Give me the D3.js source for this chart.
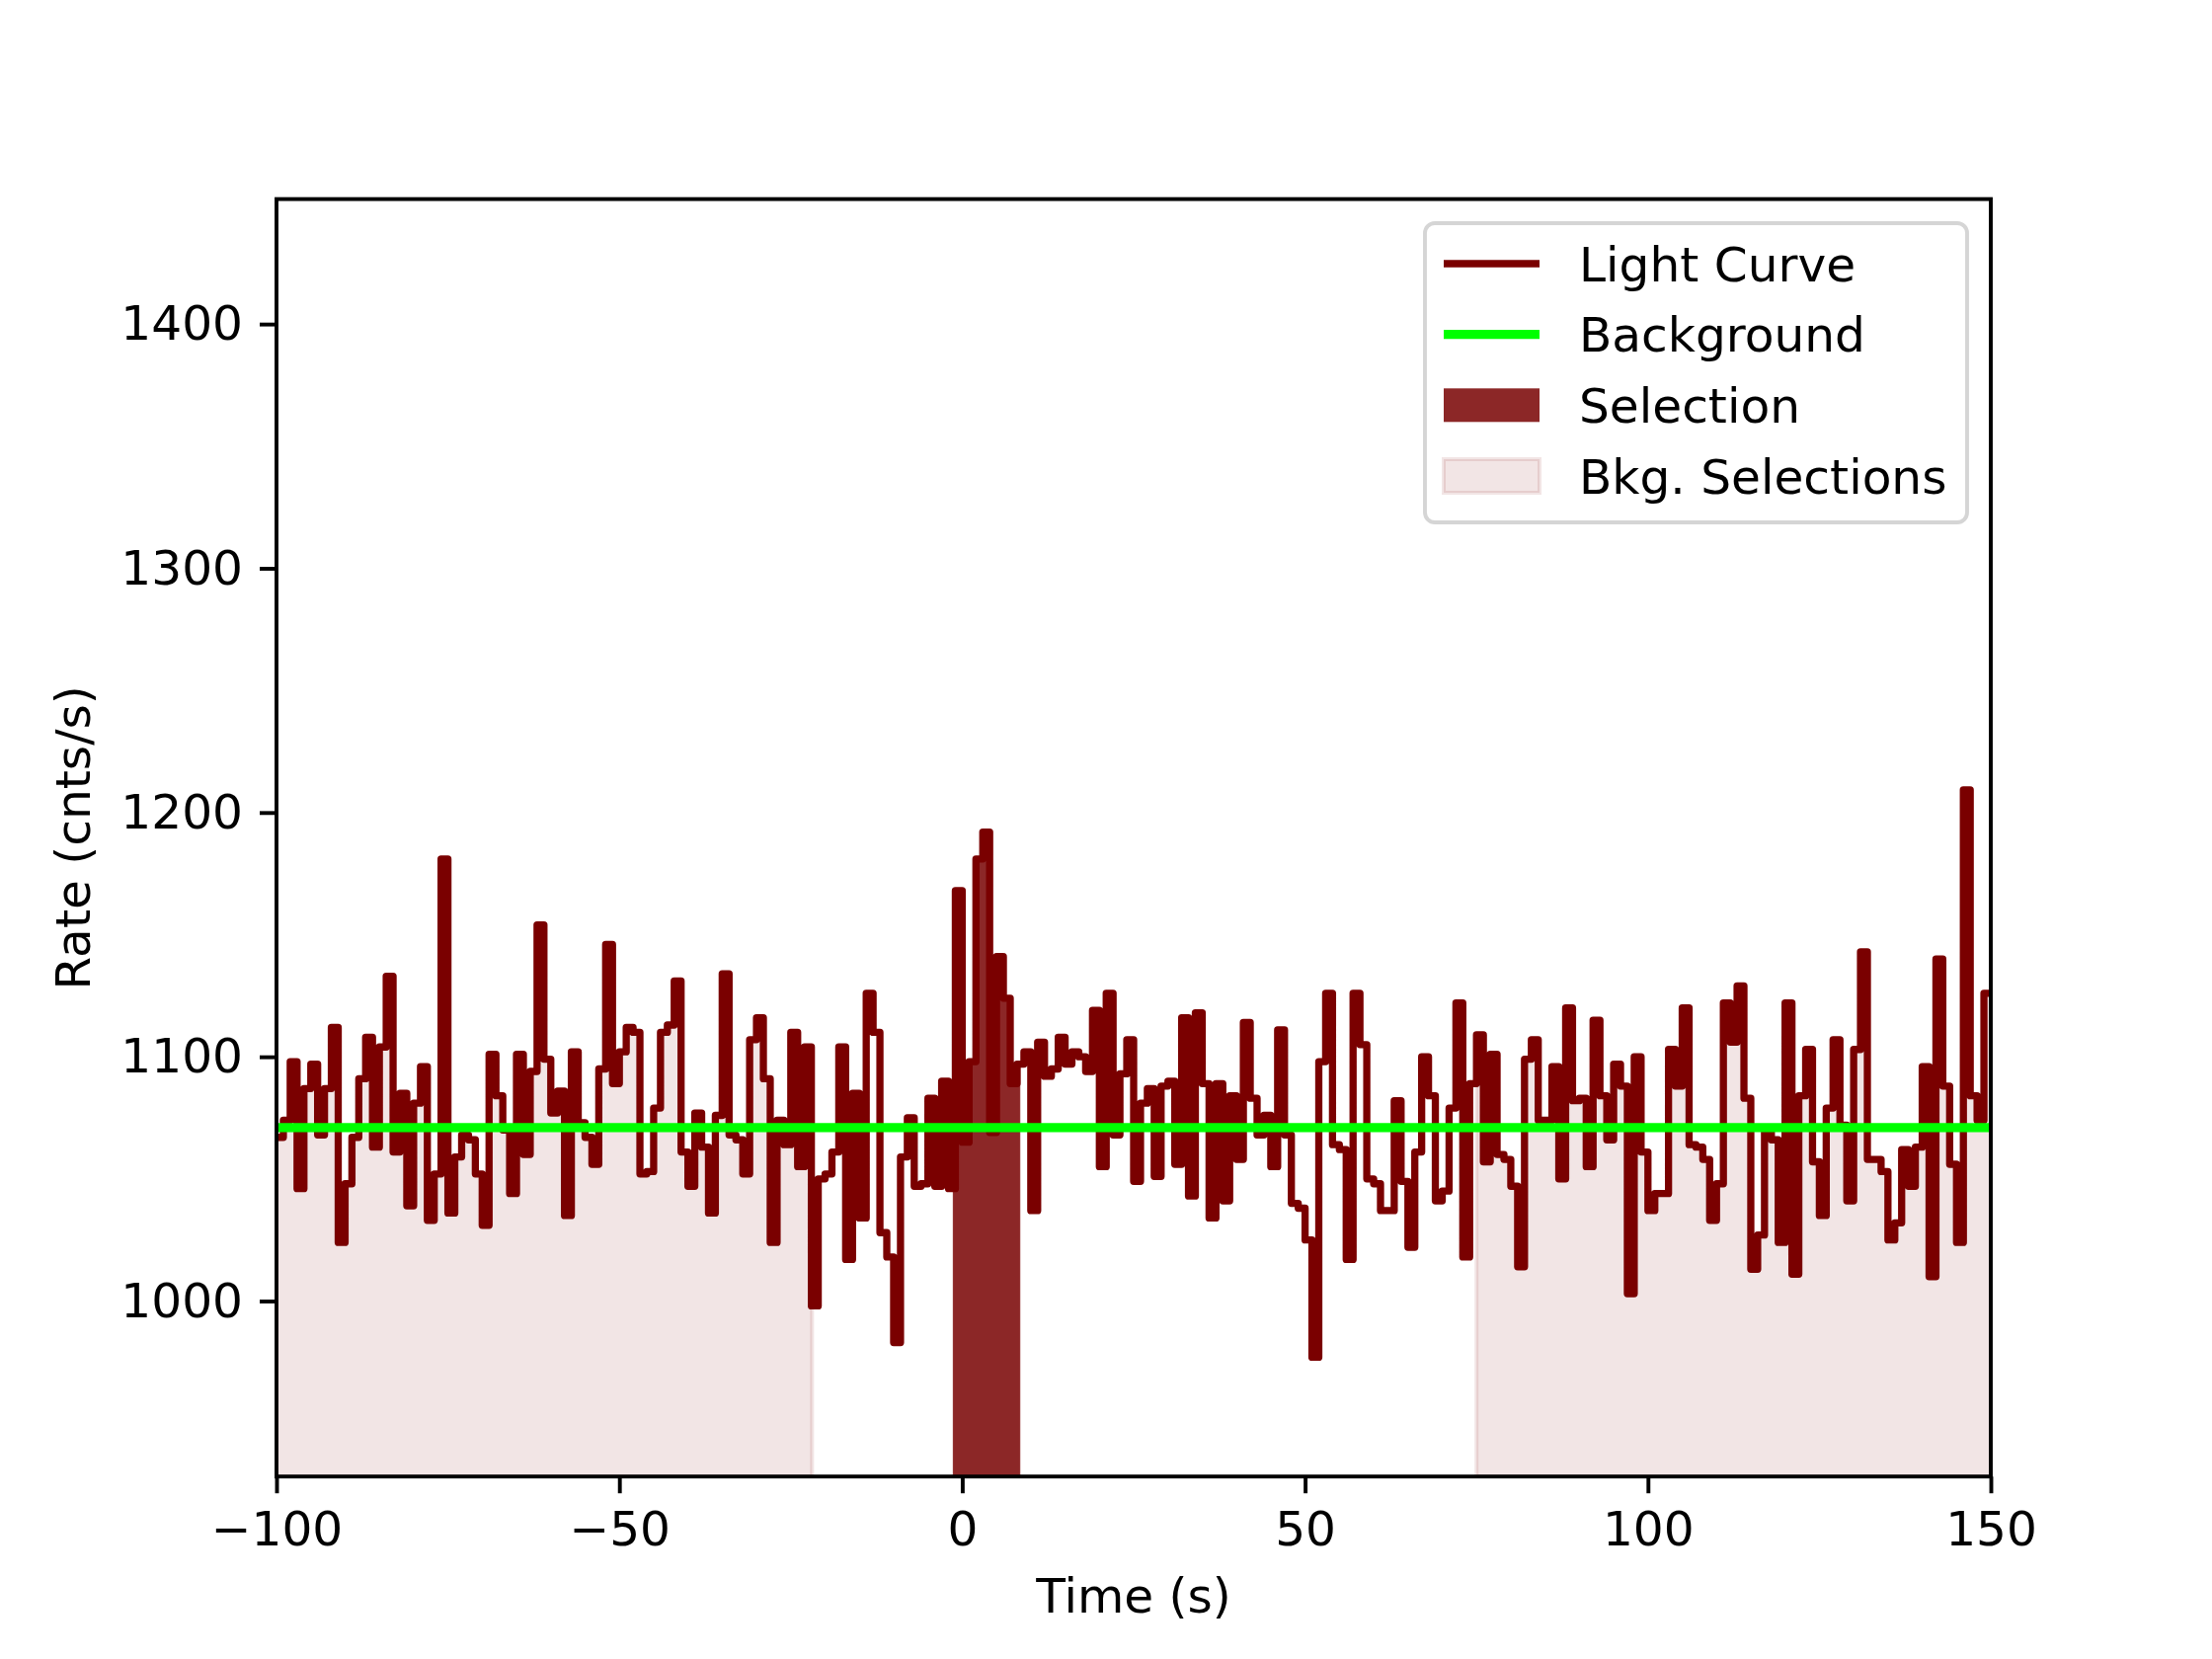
<!DOCTYPE html>
<html><head><meta charset="utf-8">
<script src="https://cdn.jsdelivr.net/npm/d3@7"></script>
<style>body{margin:0;background:#fff;} text{font-family:"DejaVu Sans",sans-serif;}</style>
</head><body><svg id="c" width="2240" height="1680"></svg>
<script>
// ---- data ----
const binStart = -100;
const binWidth = 1;
const rates = [
1067,1074,1098,1046,1087,1097,1068,1087,1112,1024,
1048,1067,1091,1108,1063,1104,1133,1061,1085,1039,
1081,1096,1033,1052,1181,1036,1059,1068,1066,1052,
1031,1101,1084,1070,1044,1101,1060,1094,1154,1099,
1077,1086,1035,1102,1073,1067,1056,1095,1146,1089,
1102,1112,1110,1052,1053,1079,1110,1113,1131,1061,
1047,1077,1063,1036,1076,1134,1068,1066,1052,1107,
1116,1091,1024,1074,1064,1110,1055,1104,998,1050,
1052,1061,1104,1017,1085,1034,1126,1110,1028,1018,
983,1059,1075,1047,1048,1083,1047,1090,1046,1168,
1065,1098,1181,1192,1069,1141,1124,1089,1097,1102,
1037,1106,1092,1095,1108,1097,1102,1100,1094,1119,
1055,1126,1068,1093,1107,1049,1081,1087,1051,1088,
1090,1056,1116,1043,1118,1089,1034,1089,1041,1084,
1058,1114,1083,1068,1076,1055,1111,1068,1040,1038,
1025,977,1098,1126,1064,1062,1017,1126,1105,1050,
1048,1037,1037,1082,1049,1022,1061,1100,1084,1041,
1045,1079,1122,1018,1089,1109,1057,1101,1060,1058,
1047,1014,1099,1107,1074,1074,1096,1050,1120,1082,
1083,1055,1115,1084,1066,1097,1088,1003,1100,1061,
1037,1044,1044,1103,1088,1120,1064,1063,1058,1033,
1048,1122,1106,1129,1083,1013,1027,1071,1066,1024,
1122,1011,1084,1103,1057,1035,1079,1107,1072,1041,
1103,1143,1058,1058,1053,1025,1032,1062,1047,1063,
1096,1010,1140,1088,1056,1024,1209.3,1084,1074,1126
];
const background = 1071;
const selection = [-1.3, 8.4];
const bkgSelections = [[-100, -21.9], [75.0, 150]];
const xDomain = [-100, 150];
const xTicks = [-100, -50, 0, 50, 100, 150];
const yTicks = [1000, 1100, 1200, 1300, 1400];
const legendLabels = ["Light Curve", "Background", "Selection", "Bkg. Selections"];
const xLabel = "Time (s)";
const yLabel = "Rate (cnts/s)";

// ---- layout ----
const L = 280, R = 2016, T = 201.6, B = 1495.2;
const FS = 48.6, LW = 3.9;
const LCW = 7.3, BGW = 9.4;
const cLine = "#7a0000", cBkg = "#00ff00", cSel = "#8c2727";

const svg = d3.select("#c");
svg.append("rect").attr("width", 2240).attr("height", 1680).attr("fill", "#fff");

const x = d3.scaleLinear().domain(xDomain).range([L, R]);
const yMin = d3.min(rates) * 0.95, yMax = d3.max(rates) * 1.2;
const y = d3.scaleLinear().domain([yMin, yMax]).range([B, T]);

const n = rates.length;
const tEnd = binStart + n * binWidth;
function valAt(t) {
  let i = Math.floor((t - binStart) / binWidth + 1e-9);
  i = Math.max(0, Math.min(n - 1, i));
  return rates[i];
}
const stepPts = rates.map((v, i) => [binStart + i * binWidth, v]);
stepPts.push([tEnd, rates[n - 1]]);

function regionPts(a, b) {
  const pts = [[a, yMin], [a, valAt(a)]];
  let prev = valAt(a);
  for (let i = 0; i <= n; i++) {
    const e = binStart + i * binWidth;
    if (e > a + 1e-9 && e < b - 1e-9) {
      pts.push([e, prev]);
      prev = rates[i];
      pts.push([e, prev]);
    }
  }
  pts.push([b, prev]);
  pts.push([b, yMin]);
  return pts;
}

svg.append("clipPath").attr("id", "plotclip").append("rect")
  .attr("x", L).attr("y", T).attr("width", R - L).attr("height", B - T);
const g = svg.append("g").attr("clip-path", "url(#plotclip)");
const line = d3.line().x(d => x(d[0])).y(d => y(d[1]));

// bkg selections
bkgSelections.forEach(s => {
  g.append("path").attr("d", line(regionPts(s[0], s[1])) + "Z")
    .attr("fill", "rgba(128,0,0,0.1)").attr("stroke", "rgba(128,0,0,0.1)")
    .attr("stroke-width", 4).attr("stroke-linejoin", "round");
});
// selection
g.append("path").attr("d", line(regionPts(selection[0], selection[1])) + "Z")
  .attr("fill", cSel).attr("stroke", cSel).attr("stroke-width", 1);

// light curve
g.append("path").datum(stepPts)
  .attr("d", d3.line().x(d => x(d[0])).y(d => y(d[1])).curve(d3.curveStepAfter))
  .attr("fill", "none").attr("stroke", cLine).attr("stroke-width", LCW)
  .attr("stroke-linejoin", "round");

// background
g.append("line").attr("x1", x(xDomain[0])).attr("x2", x(xDomain[1]))
  .attr("y1", y(background)).attr("y2", y(background))
  .attr("stroke", cBkg).attr("stroke-width", BGW);

// axes
const fmt = d => (d < 0 ? "\u2212" + Math.abs(d) : String(d));
const xa = svg.append("g").attr("transform", `translate(0,${B})`)
  .call(d3.axisBottom(x).tickValues(xTicks).tickFormat(fmt).tickSize(17).tickPadding(18).tickSizeOuter(0));
const ya = svg.append("g").attr("transform", `translate(${L},0)`)
  .call(d3.axisLeft(y).tickValues(yTicks).tickFormat(fmt).tickSize(17).tickPadding(17).tickSizeOuter(0));
[xa, ya].forEach(a => {
  a.select(".domain").remove();
  a.selectAll(".tick line").attr("stroke", "#000").attr("stroke-width", LW);
  a.selectAll(".tick text").attr("fill", "#000").style("font-size", FS + "px")
    .style("font-family", "'DejaVu Sans', sans-serif");
});
svg.append("rect").attr("x", L).attr("y", T).attr("width", R - L).attr("height", B - T)
  .attr("fill", "none").attr("stroke", "#000").attr("stroke-width", LW);

svg.append("text").attr("x", (L + R) / 2).attr("y", 1633).attr("text-anchor", "middle")
  .style("font-size", FS + "px").text(xLabel);
svg.append("text").attr("transform", `translate(91,${(T + B) / 2}) rotate(-90)`)
  .attr("text-anchor", "middle").style("font-size", FS + "px").text(yLabel);

// legend
const lg = svg.append("g");
lg.append("rect").attr("x", 1443).attr("y", 226).attr("width", 549).attr("height", 303)
  .attr("rx", 10).attr("ry", 10).attr("fill", "rgba(255,255,255,0.8)")
  .attr("stroke", "#d5d5d5").attr("stroke-width", 3.9);
const rowY = [267, 338.6, 410.3, 482];
const hx0 = 1462, hx1 = 1559, tx = 1599;
lg.append("line").attr("x1", hx0).attr("x2", hx1).attr("y1", rowY[0]).attr("y2", rowY[0])
  .attr("stroke", cLine).attr("stroke-width", LCW);
lg.append("line").attr("x1", hx0).attr("x2", hx1).attr("y1", rowY[1]).attr("y2", rowY[1])
  .attr("stroke", cBkg).attr("stroke-width", BGW);
lg.append("rect").attr("x", hx0).attr("y", rowY[2] - 17).attr("width", hx1 - hx0).attr("height", 34)
  .attr("fill", cSel);
lg.append("rect").attr("x", hx0).attr("y", rowY[3] - 17).attr("width", hx1 - hx0).attr("height", 34)
  .attr("fill", "rgba(128,0,0,0.1)").attr("stroke", "rgba(128,0,0,0.1)").attr("stroke-width", 4);
legendLabels.forEach((t, i) => {
  lg.append("text").attr("x", tx).attr("y", rowY[i] + 17.5).style("font-size", FS + "px").text(t);
});
</script></body></html>
